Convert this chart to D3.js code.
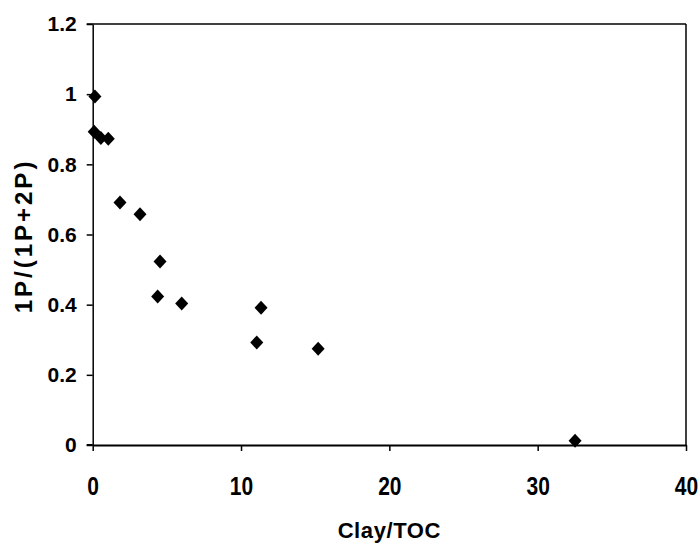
<!DOCTYPE html>
<html>
<head>
<meta charset="utf-8">
<script src="https://cdn.jsdelivr.net/npm/d3@7"></script>
<style>
  body { margin: 0; background: #fff; }
  text { font-family: "Liberation Sans", Arial, sans-serif; font-weight: bold; fill: #000; }
</style>
</head>
<body>
<div id="chart"></div>
<script>
// data
var clayToc = [0.15, 0.1, 0.55, 1.05, 1.84, 3.19, 4.54, 4.38, 6.0, 11.35, 11.06, 15.2, 32.52];
var ratio1P = [0.993, 0.893, 0.875, 0.873, 0.691, 0.658, 0.523, 0.423, 0.403, 0.391, 0.292, 0.274, 0.012];
var xTicks = [0, 10, 20, 30, 40];
var yTicks = [0, 0.2, 0.4, 0.6, 0.8, 1, 1.2];

var width = 700, height = 549;
var margin = {top: 24, right: 14, bottom: 104, left: 92.7};

var svg = d3.select("#chart").append("svg")
    .attr("width", width)
    .attr("height", height);

var x = d3.scaleLinear().domain([0, 40]).range([margin.left, width - margin.right]);
var y = d3.scaleLinear().domain([0, 1.2]).range([height - margin.bottom, margin.top]);

// frame: top and right lines
svg.append("line")
    .attr("x1", x(0) - 6).attr("x2", x(40))
    .attr("y1", y(1.2)).attr("y2", y(1.2))
    .attr("stroke", "#000").attr("stroke-width", 1.5);
svg.append("line")
    .attr("x1", x(40)).attr("x2", x(40))
    .attr("y1", y(1.2)).attr("y2", y(0))
    .attr("stroke", "#000").attr("stroke-width", 1.5);

var xAxis = svg.append("g")
    .attr("transform", "translate(0," + y(0) + ")")
    .call(d3.axisBottom(x).tickValues(xTicks).tickSize(6).tickSizeOuter(0)
        .tickFormat(d3.format("d")));

var yAxis = svg.append("g")
    .attr("transform", "translate(" + x(0) + ",0)")
    .call(d3.axisLeft(y).tickValues(yTicks).tickSize(6).tickSizeOuter(0).tickPadding(10)
        .tickFormat(function(d) { return String(+d.toFixed(1)); }));

svg.selectAll(".domain").attr("stroke", "#000").attr("stroke-width", 1.5);
xAxis.select(".domain").attr("stroke-width", 2);
svg.selectAll(".tick line").attr("stroke", "#000").attr("stroke-width", 1.5);
// x tick labels look a bit stretched upward in the original
xAxis.selectAll("text")
    .style("font-size", "21px")
    .attr("y", 0)
    .attr("transform", "translate(0,32) scale(1,1.22)")
    .attr("fill", "#000");
yAxis.selectAll("text").style("font-size", "21px").attr("fill", "#000");
// bottom axis runs a bit past the y axis like the tick
svg.append("line")
    .attr("x1", x(0) - 6).attr("x2", x(0))
    .attr("y1", y(0)).attr("y2", y(0))
    .attr("stroke", "#000").attr("stroke-width", 2);

// diamonds
svg.selectAll(".pt")
    .data(clayToc)
    .enter()
    .append("path")
    .attr("class", "pt")
    .attr("d", function(d, i) {
        var cx = x(d), cy = y(ratio1P[i]);
        return "M" + cx + "," + (cy - 7) + "L" + (cx + 6.5) + "," + cy +
               "L" + cx + "," + (cy + 7) + "L" + (cx - 6.5) + "," + cy + "Z";
    })
    .attr("fill", "#000");

// axis titles
svg.append("text")
    .attr("x", (x(0) + x(40)) / 2)
    .attr("y", 538)
    .attr("text-anchor", "middle")
    .style("font-size", "22px")
    .style("letter-spacing", "0.6px")
    .text("Clay/TOC");

svg.append("text")
    .attr("transform", "translate(32," + 236 + ") rotate(-90)")
    .attr("text-anchor", "middle")
    .style("font-size", "24px")
    .style("letter-spacing", "3px")
    .text("1P/(1P+2P)");
</script>
</body>
</html>
